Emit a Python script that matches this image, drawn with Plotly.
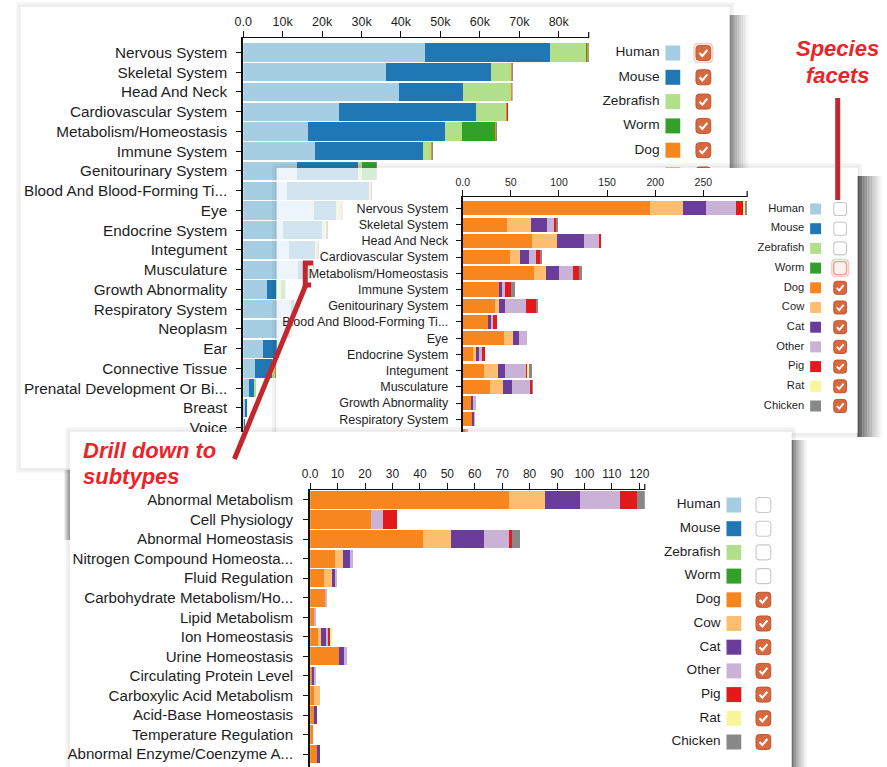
import plotly.graph_objects as go

W, H = 887, 767
FONT = "Liberation Sans, Arial, sans-serif"

# ---------------- data ----------------
SPECIES = ["Human", "Mouse", "Zebrafish", "Worm", "Dog", "Cow", "Cat",
           "Other", "Pig", "Rat", "Chicken"]
COLORS = ["#a6cee3", "#1f78b4", "#b2df8a", "#33a02c", "#f7861f", "#fdbf6f",
          "#6a3d9a", "#cab2d6", "#e31a1c", "#f9f59a", "#888888"]

SYSTEM_CATS = ["Nervous System", "Skeletal System", "Head And Neck",
               "Cardiovascular System", "Metabolism/Homeostasis", "Immune System",
               "Genitourinary System", "Blood And Blood-Forming Ti...", "Eye",
               "Endocrine System", "Integument", "Musculature", "Growth Abnormality",
               "Respiratory System", "Neoplasm", "Ear", "Connective Tissue",
               "Prenatal Development Or Bi...", "Breast", "Voice"]

# panel 1 (thousands)
p1_human = [46.2, 36.1, 39.6, 24.3, 16.3, 18.3, 13.7, 11.0, 18.0, 10.0, 11.7, 14.0,
            6.0, 12.0, 10.5, 5.0, 3.0, 1.5, 0.7, 0.3]
p1_mouse = [31.5, 26.6, 16.2, 34.6, 34.8, 27.2, 15.5, 21.0, 5.5, 10.0, 6.7, 3.0,
            2.2, 1.0, 1.5, 3.8, 4.4, 1.5, 0.1, 0.05]
p1_zebrafish = [9.4, 5.4, 12.3, 7.9, 4.4, 2.3, 1.0, 0.5, 1.5, 1.2, 0.5, 0.8,
                1.5, 0.3, 0.3, 0.2, 0.8, 0.1, 0.0, 0.0]
p1_worm = [0.2, 0.1, 0.1, 0.1, 8.6, 0.1, 3.7, 0.1, 0.1, 0.1, 0.1, 0.1,
           1.0, 0.1, 0.1, 0.1, 0.1, 0.0, 0.0, 0.0]
P1_TICKVALS = [0, 10, 20, 30, 40, 50, 60, 70, 80]
P1_TICKTEXT = ["0.0", "10k", "20k", "30k", "40k", "50k", "60k", "70k", "80k"]

# panel 2 (counts, non-model species)
p2_dog = [195, 46.5, 71.5, 49, 74, 37.5, 33.5, 26.5, 43, 11, 22, 28, 8.5, 9.5,
          3, 4, 6, 2, 1, 1]
p2_cow = [34, 24, 26, 11, 13, 0, 4, 0, 9, 2.5, 14.5, 14, 0, 0, 0, 0, 0, 0, 0, 0]
p2_cat = [24, 17, 28, 8.5, 12.5, 3.5, 6, 3, 6.5, 3.5, 7, 9.5, 1.7, 2.4,
          0, 0, 0, 0, 0, 0]
p2_other = [31, 7, 16, 7.5, 15.5, 2.5, 22.5, 1.7, 8, 3.5, 22, 18, 3.4, 0.5,
            2, 0, 0, 0, 0, 0]
p2_pig = [7.5, 2.5, 1.5, 4.5, 6, 6.5, 10, 4.4, 0, 2.5, 2, 2.5, 0, 0, 0, 0, 0, 0, 0, 0]
p2_rat = [2.5, 0, 0, 0, 0, 0, 0, 0, 0, 0, 1, 0, 0, 0, 0, 0, 0, 0, 0, 0]
p2_chicken = [1.5, 1.5, 0, 1, 3, 4.5, 1.7, 0, 0, 0, 3, 0.5, 0, 0, 0, 0, 0, 0, 0, 0]
P2_TICKVALS = [0, 50, 100, 150, 200, 250]
P2_TICKTEXT = ["0.0", "50", "100", "150", "200", "250"]

# panel 3 (Metabolism/Homeostasis subtypes)
P3_CATS = ["Abnormal Metabolism", "Cell Physiology", "Abnormal Homeostasis",
           "Nitrogen Compound Homeosta...", "Fluid Regulation",
           "Carbohydrate Metabolism/Ho...", "Lipid Metabolism", "Ion Homeostasis",
           "Urine Homeostasis", "Circulating Protein Level",
           "Carboxylic Acid Metabolism", "Acid-Base Homeostasis",
           "Temperature Regulation", "Abnormal Enzyme/Coenzyme A..."]
p3_dog = [72.5, 22, 41, 9, 5, 5.5, 1.8, 3, 10.5, 0.8, 1.3, 1.4, 0.9, 2.6]
p3_cow = [13, 0, 10.5, 3, 3, 0, 0, 0.8, 0, 0, 2.2, 0, 0, 0]
p3_cat = [13, 0, 12, 2.6, 1, 0, 0, 1.9, 2, 0.8, 0, 1, 0, 1]
p3_other = [14.5, 4.7, 9, 1, 0.8, 0.8, 0.5, 0.8, 1, 0.3, 0, 0, 0, 0]
p3_pig = [6, 5, 1, 0, 0, 0, 0, 0.9, 0, 0, 0, 0, 0, 0]
p3_rat = [0, 0, 0, 0, 0, 0, 0, 0.5, 0, 0, 0, 0, 0, 0]
p3_chicken = [3, 0, 3, 0, 0, 0, 0, 0, 0, 0, 0, 0, 0, 0]
P3_TICKVALS = [0, 10, 20, 30, 40, 50, 60, 70, 80, 90, 100, 110, 120]
P3_TICKTEXT = ["0.0"] + [str(v) for v in P3_TICKVALS[1:]]

P2_CHECKED = [False, False, False, False, True, True, True, True, True, True, True]
P3_CHECKED = [False, False, False, False, True, True, True, True, True, True, True]

# ---------------- build ----------------
p2_series = [p2_dog, p2_cow, p2_cat, p2_other, p2_pig, p2_rat, p2_chicken]
p1_series = [p1_human, p1_mouse, p1_zebrafish, p1_worm] + [[v / 1000 for v in s] for s in p2_series]
p3_series = [p3_dog, p3_cow, p3_cat, p3_other, p3_pig, p3_rat, p3_chicken]
NM_COLORS = COLORS[4:]

fig = go.Figure()
shapes = []

def fx(x):
    return x / W

def fy(y):
    return 1 - y / H

def rect(ax, x0, y0, x1, y1, fill, lc=None, lw=0):
    shapes.append(dict(type="rect", xref=ax[0], yref=ax[1], x0=x0, y0=y0, x1=x1, y1=y1,
                       fillcolor=fill, line=dict(width=lw, color=lc or "rgba(0,0,0,0)"),
                       layer="below"))

def rrect(ax, x0, y0, x1, y1, r, fill, lc, lw):
    p = (f"M{x0+r},{y0} L{x1-r},{y0} Q{x1},{y0} {x1},{y0+r} L{x1},{y1-r} "
         f"Q{x1},{y1} {x1-r},{y1} L{x0+r},{y1} Q{x0},{y1} {x0},{y1-r} "
         f"L{x0},{y0+r} Q{x0},{y0} {x0+r},{y0} Z")
    shapes.append(dict(type="path", xref=ax[0], yref=ax[1], path=p, fillcolor=fill,
                       line=dict(width=lw, color=lc), layer="below"))

def check(ax, x0, yc, s):
    p = (f"M{x0+0.24*s},{yc+0.0*s} L{x0+0.43*s},{yc+0.2*s} L{x0+0.77*s},{yc-0.2*s}")
    shapes.append(dict(type="path", xref=ax[0], yref=ax[1], path=p,
                       line=dict(width=max(1.6, s*0.14), color="white"), layer="below"))

def panel(ax, x0, y0, x1, y1, right_w, right_alpha):
    rect(ax, x0-3, y0-3, x1+3, y1+3, "rgba(0,0,0,0)", "rgba(0,0,0,0.05)", 3)
    rect(ax, x0-1, y0-1, x1+1, y1+1, "rgba(0,0,0,0)", "rgba(0,0,0,0.08)", 1.5)
    n = 10
    for i in range(n):
        a = right_alpha * (1 - i / n) ** 1.3
        rect(ax, x1 + right_w * i / n, y0 + 8, x1 + right_w * (i + 1) / n, y1 + 4,
             f"rgba(40,40,40,{a:.3f})")

def legend(ax, xr, y0, step, sq, sqx, cbx, cb, fs, checked, halo=None, rows=None,
           text_rows=None):
    xs, ys, labels = [], [], []
    n = len(SPECIES) if rows is None else rows
    nt = n if text_rows is None else text_rows
    for i, (name, col) in enumerate(list(zip(SPECIES, COLORS))[:n]):
        y = y0 + step * i
        if i < nt:
            xs.append(xr)
            ys.append(y)
            labels.append(name)
        rect(ax, sqx, y - sq / 2, sqx + sq, y + sq / 2, col)
        if checked[i]:
            rrect(ax, cbx, y - cb / 2, cbx + cb, y + cb / 2, cb * 0.22,
                  "#d6693f", "#c0552f", 1)
            check(ax, cbx, y, cb)
        else:
            rrect(ax, cbx, y - cb / 2, cbx + cb, y + cb / 2, cb * 0.22,
                  "white", "#c9c9c9", 1.1)
        if halo is not None and i == halo[0]:
            if halo[1] == "fill":
                rrect(ax, cbx, y - cb / 2, cbx + cb, y + cb / 2, cb * 0.22,
                      "#fbf1ee", "rgba(232,160,140,0.9)", 1.4)
            rrect(ax, cbx - 2, y - cb / 2 - 2, cbx + cb + 2, y + cb / 2 + 2,
                  cb * 0.3, "rgba(0,0,0,0)", "rgba(240,170,160,0.6)", 1.5)
    fig.add_trace(go.Scatter(x=xs, y=ys, text=labels, mode="text",
                             textposition="middle left",
                             textfont=dict(family=FONT, size=fs, color="#1e1e1e"),
                             xaxis=ax[0], yaxis=ax[1], hoverinfo="skip",
                             showlegend=False))

BG1, BG2, BG3 = ("x", "y"), ("x3", "y3"), ("x5", "y5")

# ---- panel 1 background (subplot 1) ----
panel(BG1, 12, 7, 732, 468, 20, 0.55)
rect(BG1, 12, 7, 732, 468, "white")
# rows below "Cow" lie fully under panel 2; the Cow row itself is only glimpsed
legend(BG1, 661, 53, 24.3, 15, 667, 698, 15, 13.7, [True] * 11, halo=(0, "ring"),
       rows=6, text_rows=5)

# ---- panel 1 bars (subplot 2) ----
for vals, col in zip(p1_series, COLORS):
    fig.add_trace(go.Bar(y=SYSTEM_CATS, x=vals, orientation="h", width=0.92,
                         marker=dict(color=col, line=dict(width=0)),
                         xaxis="x2", yaxis="y2", hoverinfo="skip", showlegend=False))

# ---- panel 2 background (subplot 3) ----
panel(BG2, 272, 168, 862, 433, 25, 0.75)
rect(BG2, 272, 168, 380, 433, "rgba(255,255,255,0.80)")
rect(BG2, 380, 168, 440, 433, "rgba(255,255,255,0.90)")
rect(BG2, 440, 168, 862, 433, "white")
legend(BG2, 808, 209, 19.7, 11, 814, 838, 13, 11.2, P2_CHECKED, halo=(3, "fill"))

# ---- panel 2 bars (subplot 4) ----
for vals, col in zip(p2_series, NM_COLORS):
    fig.add_trace(go.Bar(y=SYSTEM_CATS, x=vals, orientation="h", width=0.87,
                         marker=dict(color=col, line=dict(width=0)),
                         xaxis="x4", yaxis="y4", hoverinfo="skip", showlegend=False))

# ---- panel 3 background (subplot 5) ----
panel(BG3, 62, 432, 795, 775, 16, 0.6)
for i in range(6):
    rect(BG3, 56 + i, 470, 57 + i, 540, f"rgba(40,40,40,{0.08 + 0.07*i:.3f})")
rect(BG3, 62, 432, 795, 775, "white")
legend(BG3, 723, 505, 23.7, 15, 729, 759, 15, 13.6, P3_CHECKED)

# ---- panel 3 bars (subplot 6) ----
for vals, col in zip(p3_series, NM_COLORS):
    fig.add_trace(go.Bar(y=P3_CATS, x=vals, orientation="h", width=0.93,
                         marker=dict(color=col, line=dict(width=0)),
                         xaxis="x6", yaxis="y6", hoverinfo="skip", showlegend=False))

# ---------------- axes ----------------
def bg_axes(n):
    xa = dict(domain=[0, 1], range=[0, W], visible=False, fixedrange=True,
              anchor="y" if n == 1 else f"y{n}")
    ya = dict(domain=[0, 1], range=[H, 0], visible=False, fixedrange=True,
              anchor="x" if n == 1 else f"x{n}")
    return xa, ya

def bar_axes(n, x0, x1, y0, y1, xmax, tv, tt, xfs, cats, top_off, step, yfs, ylw, sto):
    rng_top = -top_off
    rng_bot = rng_top + (y1 - y0) / step
    xa = dict(domain=[fx(x0), fx(x1)], range=[0, xmax], side="top", anchor=f"y{n}",
              tickvals=tv, ticktext=tt, ticks="outside", ticklen=6, tickwidth=1.2,
              tickcolor="#111", showline=True, linecolor="#111", linewidth=1.3,
              showgrid=False, zeroline=False, fixedrange=True,
              tickfont=dict(family=FONT, size=xfs, color="#1e1e1e"))
    ya = dict(domain=[fy(y1), fy(y0)], range=[rng_bot, rng_top], anchor=f"x{n}",
              type="category", categoryorder="array", categoryarray=cats,
              ticks="outside", ticklen=5, tickwidth=1.3, tickcolor="#111",
              showline=True, linecolor="#111", linewidth=ylw, showgrid=False,
              zeroline=False, fixedrange=True, ticklabelstandoff=sto,
              tickfont=dict(family=FONT, size=yfs, color="#1e1e1e"))
    return xa, ya

p1_max = max(sum(v) for v in zip(*p1_series))
p2_max = max(sum(v) for v in zip(*p2_series))
p3_max = max(sum(v) for v in zip(*p3_series))

ax1x, ax1y = bg_axes(1)
ax3x, ax3y = bg_axes(3)
ax5x, ax5y = bg_axes(5)
ax2x, ax2y = bar_axes(2, 238, 589, 38, 468, p1_max, P1_TICKVALS, P1_TICKTEXT, 12.5,
                      SYSTEM_CATS, 0.73, 19.75, 15.3, 2, 6)
ax4x, ax4y = bar_axes(4, 461, 750, 197, 432, p2_max, P2_TICKVALS, P2_TICKTEXT, 10.5,
                      SYSTEM_CATS, 0.70, 16.23, 12.5, 1.8, 5)
ax6x, ax6y = bar_axes(6, 306, 646, 490, 767, p3_max, P3_TICKVALS, P3_TICKTEXT, 12,
                      P3_CATS, 0.51, 19.55, 15.1, 2, 7)

# ---------------- overlay annotations ----------------
RED_TXT = "#ec2328"
RED_LINE = "#c1272d"
over = []
def pline(x0, y0, x1, y1, w=5):
    over.append(dict(type="line", xref="paper", yref="paper", x0=fx(x0), y0=fy(y0),
                     x1=fx(x1), y1=fy(y1), line=dict(color=RED_LINE, width=w),
                     layer="above"))

for (xe, ya) in [(589, 38), (750, 197), (646, 490)]:
    over.append(dict(type="line", xref="paper", yref="paper", x0=fx(xe), x1=fx(xe),
                     y0=fy(ya), y1=fy(ya - 6), line=dict(color="#111", width=1.2),
                     layer="above"))

pline(842, 98, 842, 200)
pline(229, 459, 302, 284)
over.append(dict(type="path", xref="paper", yref="paper",
                 path=(f"M{fx(309)},{fy(263)} L{fx(301)},{fy(263)} "
                       f"L{fx(301)},{fy(285)} L{fx(307)},{fy(285)}"),
                 line=dict(color=RED_LINE, width=5), layer="above"))

ann = []
def red_text(t, x, y, anchor):
    ann.append(dict(text=t, x=fx(x), y=fy(y), xref="paper", yref="paper",
                    xanchor=anchor, yanchor="middle", showarrow=False,
                    font=dict(family=FONT, size=22, color=RED_TXT,
                              weight="bold", style="italic")))

red_text("Species", 842, 48, "center")
red_text("facets", 842, 75, "center")
red_text("Drill down to", 73, 450, "left")
red_text("subtypes", 73, 476, "left")

fig.update_layout(
    width=W, height=H, margin=dict(l=0, r=0, t=0, b=0),
    paper_bgcolor="white", plot_bgcolor="rgba(0,0,0,0)",
    barmode="stack", showlegend=False, hovermode=False,
    xaxis=ax1x, yaxis=ax1y, xaxis2=ax2x, yaxis2=ax2y,
    xaxis3=ax3x, yaxis3=ax3y, xaxis4=ax4x, yaxis4=ax4y,
    xaxis5=ax5x, yaxis5=ax5y, xaxis6=ax6x, yaxis6=ax6y,
    shapes=shapes + over, annotations=ann,
    font=dict(family=FONT),
)

fig.write_html("out.html", config={"displayModeBar": False},
               post_script="document.body.style.margin='0';document.body.style.overflow='hidden';")
